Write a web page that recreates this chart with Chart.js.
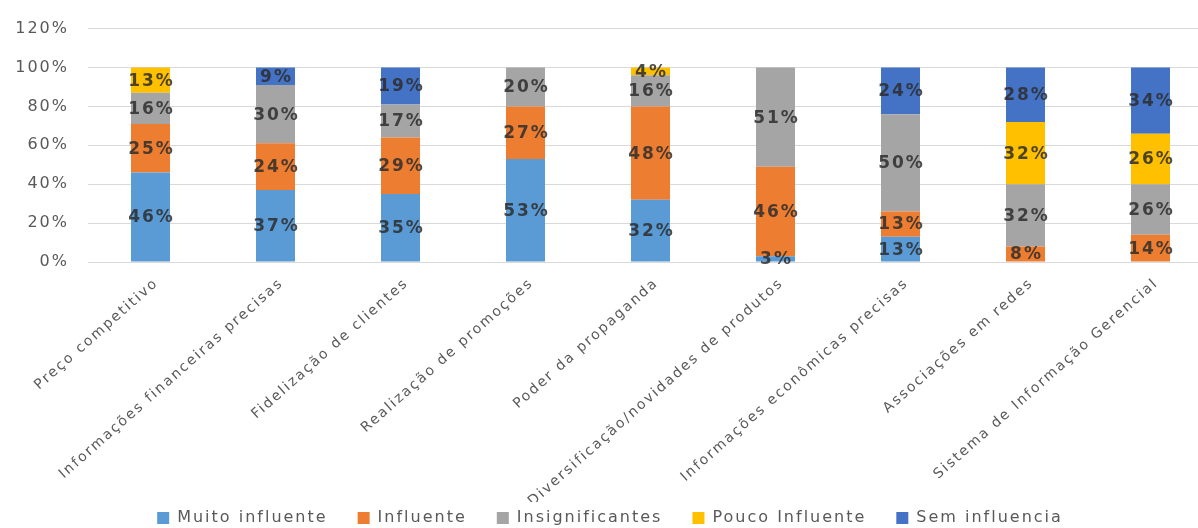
<!DOCTYPE html>
<html lang="pt">
<head>
<meta charset="utf-8">
<title>Fatores de influência</title>
<script src="https://cdn.jsdelivr.net/npm/chart.js@4.4.1/dist/chart.umd.min.js"></script>
<style>
  html, body { margin: 0; padding: 0; background: #ffffff; overflow: hidden; }
  #wrap { position: relative; width: 1220px; height: 528px; }
</style>
</head>
<body>
<div id="wrap"><canvas id="chart"></canvas></div>
<script>
// Categorias avaliadas
const categories = [
  'Preço competitivo',
  'Informações financeiras precisas',
  'Fidelização de clientes',
  'Realização de promoções',
  'Poder da propaganda',
  'Diversificação/novidades de produtos',
  'Informações econômicas precisas',
  'Associações em redes',
  'Sistema de Informação Gerencial'
];

// Percentual de respostas por nível de influência
const muitoInfluente  = [46, 37, 35, 53, 32, 3, 13, 0, 0];
const influente       = [25, 24, 29, 27, 48, 46, 13, 8, 14];
const insignificantes = [16, 30, 17, 20, 16, 51, 50, 32, 26];
const poucoInfluente  = [13, 0, 0, 0, 4, 0, 0, 32, 26];
const semInfluencia   = [0, 9, 19, 0, 0, 0, 24, 28, 34];

// Marcas do eixo vertical
const yTicks = [0, 20, 40, 60, 80, 100, 120];

const SPACING = '2px';
const FONT = '"DejaVu Sans", "Noto Sans", sans-serif';

// Espaçamento entre letras para todo o texto desenhado no canvas
const letterSpacingPlugin = {
  id: 'letterSpacing',
  beforeUpdate(chart) { chart.ctx.letterSpacing = SPACING; },
  beforeDraw(chart) { chart.ctx.letterSpacing = SPACING; }
};

// Ajuste final: legenda mais próxima da base e rótulos do eixo x sem corte
const placement = {
  id: 'placement',
  afterLayout(chart) {
    if (chart.legend) {
      const h = chart.legend.height;
      chart.legend.top = 480;
      chart.legend.bottom = 480 + h;
    }
    chart.scales.x.bottom = 502;
  }
};

// Rótulos de valor centralizados em cada segmento
const valueLabels = {
  id: 'valueLabels',
  afterDatasetsDraw(chart) {
    const ctx = chart.ctx;
    ctx.save();
    ctx.letterSpacing = SPACING;
    ctx.font = 'bold 17px ' + FONT;
    ctx.fillStyle = 'rgba(45,45,45,0.85)';
    ctx.textAlign = 'center';
    ctx.textBaseline = 'middle';
    chart.data.datasets.forEach((ds, i) => {
      const meta = chart.getDatasetMeta(i);
      meta.data.forEach((bar, j) => {
        const v = ds.data[j];
        if (!v) return;
        ctx.fillText(v + '%', bar.x + 1, (bar.y + bar.base) / 2 + 1);
      });
    });
    ctx.restore();
  }
};

const series = [
  { label: 'Muito influente', data: muitoInfluente, color: '#5B9BD5' },
  { label: 'Influente', data: influente, color: '#ED7D31' },
  { label: 'Insignificantes', data: insignificantes, color: '#A5A5A5' },
  { label: 'Pouco Influente', data: poucoInfluente, color: '#FFC000' },
  { label: 'Sem influencia', data: semInfluencia, color: '#4472C4' }
];

new Chart(document.getElementById('chart'), {
  type: 'bar',
  data: {
    labels: categories,
    datasets: series.map(s => ({
      label: s.label,
      data: s.data,
      backgroundColor: s.color,
      borderWidth: 0,
      categoryPercentage: 0.312,
      barPercentage: 1
    }))
  },
  options: {
    responsive: true,
    maintainAspectRatio: false,
    animation: false,
    devicePixelRatio: 1,
    layout: { padding: { top: 23, left: 7, right: 7, bottom: 0 } },
    plugins: {
      tooltip: { enabled: false },
      legend: {
        position: 'bottom',
        labels: {
          boxWidth: 12,
          boxHeight: 12,
          padding: 30,
          color: '#595959',
          font: { family: FONT, size: 16 }
        }
      }
    },
    scales: {
      x: {
        stacked: true,
        grid: { display: false },
        border: { display: false },
        ticks: {
          color: '#595959',
          font: { family: FONT, size: 14 },
          minRotation: 41.5,
          maxRotation: 41.5,
          autoSkip: false,
          padding: 5,
          labelOffset: 6
        },
        afterFit(scale) {
          const leg = scale.chart.legend;
          const legH = leg ? leg.height : 0;
          scale.height = scale.chart.height - legH - 262;
        }
      },
      y: {
        stacked: true,
        min: 0,
        max: 120,
        afterBuildTicks(scale) {
          scale.ticks = yTicks.map(v => ({ value: v }));
        },
        grid: { color: '#D9D9D9', lineWidth: 1, drawTicks: false },
        border: { display: false },
        ticks: {
          color: '#595959',
          font: { family: FONT, size: 16 },
          padding: 19,
          callback: v => v + '%'
        },
        afterFit(scale) { scale.width = 81; }
      }
    }
  },
  plugins: [letterSpacingPlugin, placement, valueLabels]
});
</script>
</body>
</html>
